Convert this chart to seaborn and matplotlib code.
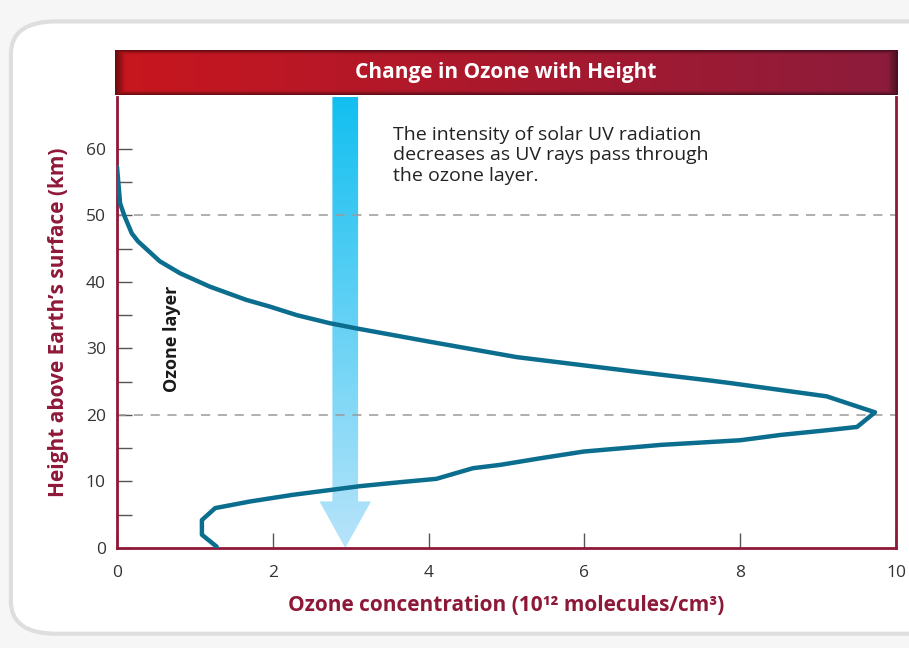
import numpy as np
import pandas as pd
import matplotlib.pyplot as plt
import seaborn as sns
from matplotlib.patches import FancyBboxPatch, Polygon
from matplotlib.colors import LinearSegmentedColormap, to_rgb

plt.switch_backend('Agg')

# Ozone profile (top of curve down to the ground)
height_km = [57.3, 51.8, 49.8, 47.3, 46.1, 43.1, 41.3, 39.3, 37.3, 36.3, 35.0, 33.8,
             33.0, 31.0, 28.7, 26.6, 25.2, 24.8, 22.8, 20.4, 18.2, 17.7, 17.0,
             16.2, 15.5, 14.5, 13.5, 12.5, 12.0, 10.4, 9.9, 9.3, 8.0, 7.0, 6.0,
             4.2, 2.0, 0.2]
ozone_conc = [0.00, 0.04, 0.10, 0.19, 0.27, 0.55, 0.81, 1.19, 1.66, 1.96, 2.31, 2.73,
              3.08, 4.02, 5.13, 6.59, 7.60, 7.87, 9.11, 9.73, 9.50, 9.11, 8.52,
              8.00, 6.98, 5.99, 5.44, 4.92, 4.57, 4.10, 3.64, 3.12, 2.26, 1.71, 1.26,
              1.09, 1.09, 1.28]

x_ticks = [0, 2, 4, 6, 8, 10]
y_ticks = [0, 10, 20, 30, 40, 50, 60]
y_minor = [5, 15, 25, 35, 45, 55]
ref_lines = [20, 50]

title = 'Change in Ozone with Height'
note = ('The intensity of solar UV radiation\n'
        'decreases as UV rays pass through\n'
        'the ozone layer.')

# UV arrow geometry (data units)
arrow_x = 2.93
shaft_half = 0.165
head_half = 0.33
head_base = 7.0

RED = '#8e1838'
FONT = ['Open Sans', 'DejaVu Sans']

sns.set_style('white')
plt.rcParams['font.family'] = FONT

df = pd.DataFrame({'conc': ozone_conc, 'height': height_km})

fig = plt.figure(figsize=(9.09, 6.48), dpi=100)
fig.patch.set_facecolor('#f6f6f6')

# card background
card = FancyBboxPatch((0.012, 0.022), 1.05, 0.945, boxstyle='round,pad=0,rounding_size=0.05',
                      transform=fig.transFigure, facecolor='white', edgecolor='#dedede',
                      linewidth=3, zorder=-5)
fig.add_artist(card)

ax = fig.add_axes([0.1287, 0.1543, 0.857, 0.6960])
ax.set_zorder(2)
ax.set_facecolor('white')

ymax = 67.8

# gradient UV arrow
arrow_pts = [(arrow_x - shaft_half, ymax), (arrow_x + shaft_half, ymax),
             (arrow_x + shaft_half, head_base), (arrow_x + head_half, head_base),
             (arrow_x, 0), (arrow_x - head_half, head_base),
             (arrow_x - shaft_half, head_base)]
poly = Polygon(arrow_pts, closed=True, facecolor='none', edgecolor='none')
ax.add_patch(poly)
uv_cmap = LinearSegmentedColormap.from_list('uv', ['#b8e4fa', '#12bff0'])
grad = np.linspace(0, 1, 256).reshape(-1, 1)
img = ax.imshow(grad, cmap=uv_cmap, origin='lower', aspect='auto',
                extent=[arrow_x - head_half, arrow_x + head_half, 0, ymax], zorder=1)
img.set_clip_path(poly)

for yv in ref_lines:
    ax.axhline(yv, color='#9a9a9a', linestyle=(0, (6, 5)), linewidth=1.1, zorder=1.5)

sns.lineplot(data=df, x='conc', y='height', sort=False, estimator=None,
             color='#0b6e8e', linewidth=3.2, ax=ax, zorder=3)

ax.set_xlim(0, 10)
ax.set_ylim(0, ymax)
ax.set_xticks(x_ticks)
ax.set_yticks(y_ticks)
ax.set_yticks(y_minor, minor=True)
ax.tick_params(axis='both', which='both', direction='in', length=11, width=1,
               color='#555555', labelsize=12.5, labelcolor='#333333', pad=8,
               bottom=True, left=True)
ax.tick_params(axis='x', pad=12)

for side in ['left', 'bottom', 'right']:
    ax.spines[side].set_color(RED)
    ax.spines[side].set_linewidth(2)
ax.spines['top'].set_visible(False)

ax.set_xlabel('Ozone concentration (10\u00b9\u00b2 molecules/cm\u00b3)', fontsize=15,
              fontweight='bold', color=RED, labelpad=10)
ax.set_ylabel('Height above Earth\u2019s surface (km)', fontsize=15,
              fontweight='bold', color=RED, labelpad=12)

ax.text(0.71, 31.5, 'Ozone layer', rotation=90, ha='center', va='center',
        fontsize=13, fontweight='bold', color='#1a1a1a')
ax.text(3.54, 63.5, note, ha='left', va='top', fontsize=14, color='#222222',
        linespacing=1.2)

# title bar: red gradient with darker inner edges
tax = fig.add_axes([0.1265, 0.8534, 0.8605, 0.0694])
tax.set_zorder(3)
c0, c1 = np.array(to_rgb('#c8161e')), np.array(to_rgb('#8c1c3c'))
u = np.linspace(0, 1, 400)
v = np.linspace(0, 1, 40)
base = c0[None, None, :] * (1 - u[None, :, None]) + c1[None, None, :] * u[None, :, None]
edge = np.minimum(np.minimum(v, 1 - v)[:, None] * 12, 1.0)
edge = np.minimum(edge, np.minimum(u * 80, (1 - u) * 80)[None, :])
shade = 0.55 + 0.45 * edge
tax.imshow(base * shade[:, :, None], aspect='auto', extent=[0, 1, 0, 1])
tax.set_xlim(0, 1)
tax.set_ylim(0, 1)
tax.axis('off')
tax.text(0.5, 0.5, title, ha='center', va='center', fontsize=15, fontweight='bold',
         color='white')

fig.savefig('out.png', dpi=100)
plt.close(fig)
